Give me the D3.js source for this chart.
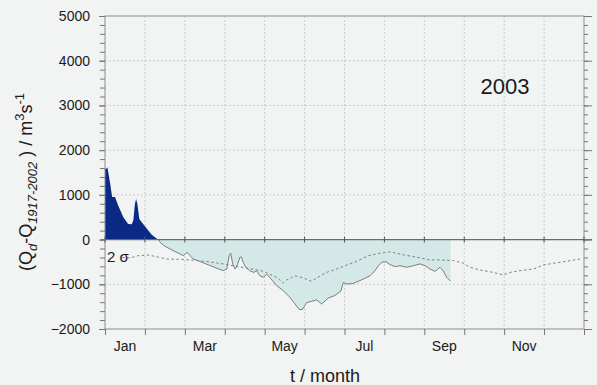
<!DOCTYPE html>
<html>
<head>
<meta charset="utf-8">
<script src="https://cdn.jsdelivr.net/npm/d3@7/dist/d3.min.js"></script>
<style>
  body { margin: 0; background: #f2f3f3; }
  svg { display: block; font-family: "Liberation Sans", Arial, sans-serif; }
</style>
</head>
<body>
<svg id="chart" width="597" height="385"></svg>
<script>
// Discharge anomaly for 2003, x in months since 1 Jan (equal-width months)
const anomalyMonth = [0.00, 0.04, 0.06, 0.13, 0.18, 0.25, 0.33, 0.46, 0.58, 0.67, 0.71, 0.75, 0.78, 0.81, 0.86, 0.92, 1.05, 1.17, 1.30, 1.34,
  1.38, 1.50, 1.63, 1.84, 1.96, 2.06, 2.13, 2.21, 2.63, 2.96, 3.05, 3.11, 3.15, 3.20, 3.26, 3.31, 3.38, 3.42, 3.46, 3.53, 3.62, 3.73, 3.80,
  3.88, 3.97, 4.05, 4.13, 4.30, 4.47, 4.63, 4.76, 4.87, 4.95, 5.05, 5.18, 5.30, 5.43, 5.59, 5.76, 5.91, 5.97, 6.06, 6.22, 6.47, 6.64, 6.76,
  6.85, 6.93, 7.04, 7.14, 7.27, 7.39, 7.56, 7.72, 7.89, 8.02, 8.14, 8.27, 8.39, 8.47, 8.56, 8.66];
const anomalyValue = [1580, 1590, 1620, 1250, 950, 950, 760, 500, 350, 340, 430, 800, 910, 800, 460, 390, 240, 110, 20, 0,
  -60, -150, -210, -305, -360, -285, -360, -430, -580, -695, -660, -360, -305, -545, -660, -580, -395, -390, -510, -620, -695, -735, -695,
  -810, -845, -770, -850, -1030, -1145, -1290, -1440, -1570, -1560, -1410, -1380, -1350, -1440, -1310, -1250, -1150, -960, -995, -980, -885, -810, -700,
  -585, -510, -495, -560, -605, -585, -620, -585, -545, -585, -660, -710, -620, -695, -845, -935];

// Two-sigma envelope of the 1917-2002 reference period
const sigmaMonth = [0.43, 0.63, 0.83, 1.09, 1.34, 1.55, 1.84, 2.21, 2.63, 2.96, 3.30, 3.63, 3.97, 4.30, 4.47, 4.55, 4.76, 4.97, 5.18, 5.30,
  5.55, 5.80, 6.01, 6.31, 6.60, 6.89, 7.14, 7.47, 7.81, 8.14, 8.39, 8.73, 8.98, 9.14, 9.39, 9.73, 9.98, 10.15, 10.40, 10.73, 10.98, 11.23, 11.57, 11.90];
const sigmaValue = [-400, -410, -360, -345, -395, -435, -440, -460, -500, -545, -600, -650, -710, -845, -970, -905, -810, -860, -935, -860,
  -735, -660, -585, -485, -360, -305, -275, -340, -395, -455, -455, -470, -530, -620, -680, -735, -790, -735, -695, -660, -570, -530, -485, -435];

const monthLabels = ["Jan", "Mar", "May", "Jul", "Sep", "Nov"];
const monthLabelAt = [0.5, 2.5, 4.5, 6.5, 8.5, 10.5];
const monthBounds = d3.range(0, 13);
const yMajorTicks = [-2000, -1000, 0, 1000, 2000, 3000, 4000, 5000];
const yGridTicks = [-1000, 1000, 2000, 3000, 4000];
const yMinorTicks = d3.range(-2000, 5001, 200);
const yearLabel = "2003";

const svg = d3.select("#chart");
const plotL = 105, plotR = 584, plotT = 16, plotB = 329;

const x = d3.scaleLinear().domain([0, 12]).range([plotL, plotR]);
const y = d3.scaleLinear().domain([-2000, 5000]).range([plotB, plotT]);

const anomaly = anomalyMonth.map((m, i) => [m, anomalyValue[i]]);
const sigma = sigmaMonth.map((m, i) => [m, sigmaValue[i]]);

// clip regions above and below zero
const defs = svg.append("defs");
defs.append("clipPath").attr("id", "above")
  .append("rect").attr("x", plotL).attr("y", plotT).attr("width", plotR - plotL).attr("height", y(0) - plotT);
defs.append("clipPath").attr("id", "below")
  .append("rect").attr("x", plotL).attr("y", y(0)).attr("width", plotR - plotL).attr("height", plotB - y(0));

// gridlines
const grid = svg.append("g").attr("stroke", "#c2c4c4").attr("stroke-width", 0.8).attr("stroke-dasharray", "2,2");
grid.selectAll("line.v").data(monthBounds.slice(1, 12)).join("line").attr("class", "v")
  .attr("x1", d => x(d)).attr("x2", d => x(d)).attr("y1", plotT).attr("y2", plotB);
grid.selectAll("line.h").data(yGridTicks).join("line").attr("class", "h")
  .attr("x1", plotL).attr("x2", plotR).attr("y1", d => y(d)).attr("y2", d => y(d));

// areas
const area = d3.area().x(d => x(d[0])).y0(y(0)).y1(d => y(d[1]));
svg.append("path").datum(anomaly).attr("d", area)
  .attr("fill", "#0b2a85").attr("clip-path", "url(#above)");
svg.append("path").datum(anomaly).attr("d", area)
  .attr("fill", "#d4e9e7").attr("clip-path", "url(#below)");

const line = d3.line().x(d => x(d[0])).y(d => y(d[1]));
svg.append("path").datum(anomaly).attr("d", line)
  .attr("fill", "none").attr("stroke", "#6f7272").attr("stroke-width", 0.9)
  .attr("clip-path", "url(#below)");

// 2 sigma line
svg.append("path").datum(sigma).attr("d", line)
  .attr("fill", "none").attr("stroke", "#7e8080").attr("stroke-width", 1)
  .attr("stroke-dasharray", "2.5,2.5");

// frame
svg.append("rect").attr("x", plotL).attr("y", plotT).attr("width", plotR - plotL).attr("height", plotB - plotT)
  .attr("fill", "none").attr("stroke", "#8c8e8e").attr("stroke-width", 1);

// zero line with month ticks
svg.append("line").attr("x1", plotL - 4).attr("x2", plotR + 8).attr("y1", y(0)).attr("y2", y(0))
  .attr("stroke", "#6a6c6c").attr("stroke-width", 1.3);
svg.append("g").selectAll("line").data(monthBounds).join("line")
  .attr("x1", d => x(d)).attr("x2", d => x(d)).attr("y1", y(0) - 3).attr("y2", y(0) + 3)
  .attr("stroke", "#555").attr("stroke-width", 1);

// left axis
const axisLeft = svg.append("g").attr("transform", `translate(${plotL},0)`)
  .call(d3.axisLeft(y).tickValues(yMinorTicks).tickSize(5).tickFormat(""));
axisLeft.select(".domain").remove();
axisLeft.selectAll("line").attr("stroke", "#777");
const axisLeftMajor = svg.append("g").attr("transform", `translate(${plotL},0)`)
  .call(d3.axisLeft(y).tickValues(yMajorTicks).tickSize(6).tickPadding(9).tickFormat(d3.format("d")));
axisLeftMajor.select(".domain").remove();
axisLeftMajor.selectAll("line").attr("stroke", "#777");
axisLeftMajor.selectAll("text").attr("font-size", 14).attr("fill", "#1a1a1a")
  .attr("font-family", "Liberation Sans, Arial, sans-serif");

// right axis (ticks only)
const axisRight = svg.append("g").attr("transform", `translate(${plotR},0)`)
  .call(d3.axisRight(y).tickValues(yMinorTicks).tickSize(4).tickFormat(""));
axisRight.select(".domain").remove();
axisRight.selectAll("line").attr("stroke", "#777");
const axisRightMajor = svg.append("g").attr("transform", `translate(${plotR},0)`)
  .call(d3.axisRight(y).tickValues(yMajorTicks).tickSize(8).tickFormat(""));
axisRightMajor.select(".domain").remove();
axisRightMajor.selectAll("line").attr("stroke", "#777");

// bottom axis
const axisBottom = svg.append("g").attr("transform", `translate(0,${plotB})`)
  .call(d3.axisBottom(x).tickValues(monthBounds).tickSize(6).tickFormat(""));
axisBottom.select(".domain").remove();
axisBottom.selectAll("line").attr("stroke", "#777");
svg.append("g").selectAll("text").data(monthLabels).join("text")
  .attr("x", (d, i) => x(monthLabelAt[i])).attr("y", 351)
  .attr("text-anchor", "middle").attr("font-size", 14).attr("fill", "#1a1a1a")
  .text(d => d);

// axis titles
svg.append("text").attr("x", 325).attr("y", 382).attr("text-anchor", "middle")
  .attr("font-size", 18).attr("fill", "#1a1a1a").text("t / month");

const yt = svg.append("text").attr("transform", "translate(32,182) rotate(-90)")
  .attr("text-anchor", "middle").attr("font-size", 18).attr("fill", "#1a1a1a");
yt.append("tspan").text("(Q");
yt.append("tspan").attr("font-size", 13).attr("font-style", "italic").attr("dy", 5).text("d");
yt.append("tspan").attr("dy", -5).text("-Q");
yt.append("tspan").attr("font-size", 13).attr("font-style", "italic").attr("dy", 5).text("1917-2002");
yt.append("tspan").attr("dy", -5).text(" ) / m");
yt.append("tspan").attr("font-size", 13).attr("dy", -8).text("3");
yt.append("tspan").attr("dy", 8).text("s");
yt.append("tspan").attr("font-size", 13).attr("dy", -8).text("-1");

// annotations
svg.append("text").attr("x", 505).attr("y", 94).attr("text-anchor", "middle")
  .attr("font-size", 22).attr("fill", "#1a1a1a").text(yearLabel);
svg.append("text").attr("x", 107).attr("y", 262).attr("font-size", 15).attr("fill", "#1a1a1a")
  .text("2 σ");
</script>
</body>
</html>
